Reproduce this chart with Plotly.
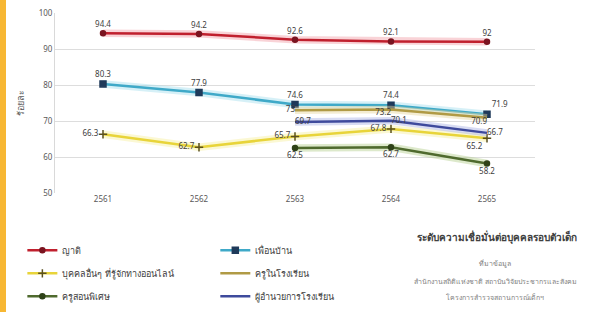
import plotly.graph_objects as go

years = ["2561", "2562", "2563", "2564", "2565"]
relatives = [94.4, 94.2, 92.6, 92.1, 92]
neighbors = [80.3, 77.9, 74.6, 74.4, 71.9]
others = [66.3, 62.7, 65.7, 67.8, 65.2]
school_teachers = [None, None, 73, 73.2, 70.9]
tutors = [None, None, 62.5, 62.7, 58.2]
directors = [None, None, 69.7, 70.1, 66.7]

names = {
    "relatives": "ญาติ",
    "neighbors": "เพื่อนบ้าน",
    "others": "บุคคลอื่นๆ ที่รู้จักทางออนไลน์",
    "school_teachers": "ครูในโรงเรียน",
    "tutors": "ครูสอนพิเศษ",
    "directors": "ผู้อำนวยการโรงเรียน",
}
title_text = "ระดับความเชื่อมั่นต่อบุคคลรอบตัวเด็ก"
source_lines = ["ที่มาข้อมูล", "สำนักงานสถิติแห่งชาติ สถาบันวิจัยประชากรและสังคม", "โครงการสำรวจสถานการณ์เด็กฯ"]

FONT = "Noto Sans, DejaVu Sans, sans-serif"
fig = go.Figure()


def add_series(vals, key, color, glow, width, marker, msize, mcolor, tpos, legend):
    xs = [y for y, v in zip(years, vals) if v is not None]
    ys = [v for v in vals if v is not None]
    fig.add_trace(go.Scatter(x=xs, y=ys, mode="lines", line=dict(color=glow, width=width + 5),
                             opacity=0.45, showlegend=False, hoverinfo="skip"))
    fig.add_trace(go.Scatter(
        x=xs, y=ys, name=names[key], mode="lines+markers+text" if marker else "lines+text",
        line=dict(color=color, width=width),
        marker=dict(symbol=marker or "circle", size=msize, color=mcolor,
                    line=dict(color=mcolor, width=1.5)),
        text=[f"{v:g}" for v in ys], textposition=tpos,
        textfont=dict(size=8, color="#404040", family=FONT),
        legend=legend, legendgroup=key, cliponaxis=False))


add_series(relatives, "relatives", "#C0202E", "#F2A0A8", 2.5, "circle", 5, "#7A1420",
           ["top center"] * 5, "legend")
add_series(neighbors, "neighbors", "#3FA9C8", "#A6E0EE", 2.5, "square", 6, "#1F3A5A",
           ["top center"] * 4 + ["top right"], "legend2")
add_series(others, "others", "#E8D43A", "#F8F0A0", 2.5, "cross-thin", 6, "#5A5020",
           ["middle left"] * 4 + ["bottom left"], "legend")
add_series(school_teachers, "school_teachers", "#B09A45", "#E8D9A0", 2.5, None, 5, "#B09A45",
           ["middle left", "bottom left", "bottom left"], "legend2")
add_series(tutors, "tutors", "#4F6A2E", "#B5CF8E", 2.5, "circle", 5, "#2F4218",
           ["bottom center"] * 3, "legend")
add_series(directors, "directors", "#3E4A9C", "#A9B2E6", 2.5, None, 5, "#3E4A9C",
           ["middle right"] * 3, "legend2")

ann = [dict(text=f"<b>{title_text}</b>", x=0.921, y=-0.244, xref="paper", yref="paper",
            xanchor="center", yanchor="middle",
            showarrow=False, font=dict(size=10, color="#404040", family=FONT))]
for i, (line, yy) in enumerate(zip(source_lines, [-0.389, -0.489, -0.583])):
    ann.append(dict(text=line, x=0.917, y=yy, xref="paper", yref="paper", showarrow=False,
                    xanchor="center", yanchor="middle",
                    font=dict(size=7, color="#808080", family=FONT)))

legend_style = dict(orientation="v", xanchor="left", yanchor="top", bgcolor="rgba(0,0,0,0)",
                    font=dict(size=9, color="#404040", family=FONT), tracegroupgap=4,
                    itemwidth=30)

fig.update_layout(
    width=592, height=312, autosize=False,
    margin=dict(l=55, r=57, t=13, b=119, autoexpand=False),
    paper_bgcolor="white", plot_bgcolor="white",
    font=dict(family=FONT, color="#595959"),
    xaxis=dict(type="category", categoryorder="array", categoryarray=years, range=[-0.5, 4.5],
               showgrid=False, showline=False, ticks="", automargin=False,
               tickfont=dict(size=8, color="#595959")),
    yaxis=dict(range=[50, 100], dtick=10, showgrid=True, gridcolor="#DDDDDD", gridwidth=1,
               showline=True, linecolor="#D9D9D9", zeroline=False, ticks="", automargin=False,
               tickfont=dict(size=8, color="#595959"),
               title=dict(text="ร้อยละ", font=dict(size=9, color="#595959"), standoff=12)),
    legend=dict(x=-0.068, y=-0.238, **legend_style),
    legend2=dict(x=0.334, y=-0.238, **legend_style),
    annotations=ann,
    shapes=[dict(type="rect", xref="paper", yref="paper", x0=-55 / 480, x1=-49 / 480,
                 y0=-119 / 180, y1=1 + 13 / 180,
                 fillcolor="#F7B733", line=dict(width=0), layer="below")],
)

fig.write_html("out.html", config={"displayModeBar": False},
               post_script="document.body.style.margin='0px';document.body.style.overflow='hidden';")
